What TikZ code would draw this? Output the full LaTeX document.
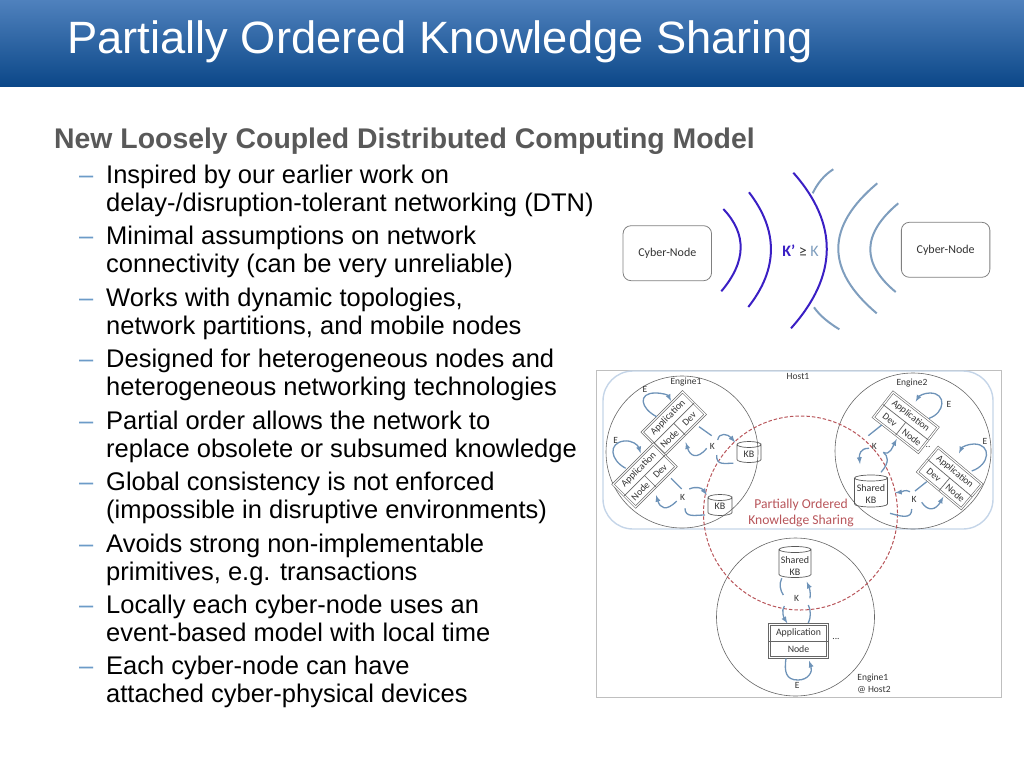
\documentclass[tikz,border=0pt]{standalone}
\usepackage{fontspec}
\setmainfont{Liberation Sans}
\newfontfamily\diagfont{Carlito}
\definecolor{bartop}{HTML}{4F81BD}
\definecolor{barbottom}{HTML}{0B4788}
\definecolor{headgray}{HTML}{595959}
\definecolor{dashblue}{HTML}{6C9BC8}
\definecolor{waveblue}{HTML}{3A1FC4}
\definecolor{wavesteel}{HTML}{7F9EBE}
\definecolor{flowblue}{HTML}{6E93B8}
\definecolor{hostblue}{HTML}{C5D5E8}
\definecolor{sharered}{HTML}{B8555A}
\definecolor{inkgray}{HTML}{333333}
\tikzset{
  bodyline/.style={anchor=base west,inner sep=0pt,font=\fontsize{25.5}{28}\selectfont},
  bulletdash/.style={anchor=base west,inner sep=0pt,text=dashblue,font=\fontsize{25.5}{28}\selectfont},
  cybernode/.style={draw=gray,rounded corners=8,line width=.8pt,minimum width=88.5,minimum height=55,text=inkgray,font=\diagfont\fontsize{12}{14}\selectfont},
  wave/.style={line width=2pt,draw=waveblue},
  wavelight/.style={line width=2pt,draw=wavesteel},
  engine/.style={draw=gray!80!black,circle,line width=.6pt,minimum size=#1,inner sep=0pt},
  kbbox/.style={inner sep=0pt,outer sep=0pt},
  kbline/.style={draw=gray!70!black,line width=.7pt},
  kbtext/.style={inner sep=0pt,align=center,text=inkgray,font=\diagfont\fontsize{10}{12}\selectfont},
  applabel/.style={inner sep=0pt,text=inkgray,font=\diagfont\fontsize{9.8}{11}\selectfont},
  appouter/.style={draw=gray!80!black,double,double distance=1.2pt,line width=.6pt,minimum width=57,minimum height=32,inner sep=0pt},
  appsplit/.style={draw=gray!80!black,line width=.7pt},
  tag/.style={inner sep=0pt,text=inkgray,align=left,font=\diagfont\fontsize{9.5}{12}\selectfont},
  flow/.style={draw=flowblue,line width=1.3pt,-latex},
  flowplain/.style={draw=flowblue,line width=1.3pt}
}
% rotated application box: name, centre, angle, left part, right part
\newcommand{\appdiamond}[5]{
  \begin{scope}[shift={(#2)},rotate=#3]
    \node[appouter,rotate=#3] (#1) at (0,0) {};
    \node[applabel,rotate=#3] (#1app) at (0,-8) {Application};
    \node[applabel,rotate=#3] (#1left) at (-14,8) {#4};
    \node[applabel,rotate=#3] (#1right) at (14,8) {#5};
    \draw[appsplit] (#1.west) -- (#1.east);
    \draw[appsplit] (#1.center) -- (#1.south);
  \end{scope}
}
% drum: name, centre, width, side height
\newcommand{\kbdrum}[4]{
  \node[kbbox,minimum width=#3,minimum height=#4] (#1) at (#2) {};
  \draw[kbline] (#1.north west) -- (#1.south west)
    arc[start angle=180,end angle=0,x radius=#3/2,y radius=3]
    -- (#1.north east)
    arc[start angle=0,end angle=360,x radius=#3/2,y radius=3];
}
\begin{document}
\begin{tikzpicture}[x=1pt,y=-1pt]
  \useasboundingbox (0,0) rectangle (1024,768);
  \shade[top color=bartop,bottom color=barbottom] (0,0) rectangle (1024,86.7);
  \node[anchor=base west,inner sep=0pt,text=white,font=\fontsize{45.3}{50}\selectfont] (title) at (67,53) {Partially Ordered Knowledge Sharing};
  \node[anchor=base west,inner sep=0pt,text=headgray,font=\bfseries\fontsize{28.4}{30}\selectfont] (heading) at (54,148.5) {New Loosely Coupled Distributed Computing Model};

  % text lines
  \foreach \ypos/\linetext [count=\i] in {
    183/{Inspired by our earlier work on},
    211/{delay-/disruption-tolerant networking (DTN)},
    244.5/{Minimal assumptions on network},
    272/{connectivity (can be very unreliable)},
    306/{Works with dynamic topologies,},
    334/{network partitions, and mobile nodes},
    367.5/{Designed for heterogeneous nodes and},
    395/{heterogeneous networking technologies},
    429/{Partial order allows the network to},
    457/{replace obsolete or subsumed knowledge},
    490.5/{Global consistency is not enforced},
    518.5/{(impossible in disruptive environments)},
    552/{Avoids strong non-implementable},
    580/{primitives, e.g. transactions},
    613.5/{Locally each cyber-node uses an},
    641.5/{event-based model with local time},
    674.5/{Each cyber-node can have},
    702.5/{attached cyber-physical devices}}
    \node[bodyline] (line\i) at (106,\ypos) {\linetext};
  \foreach \ypos [count=\i] in {183,244.5,306,367.5,429,490.5,552,613.5,674.5}
    \node[bulletdash] (dash\i) at (79,\ypos) {--};

  % top sketch
  \node[cybernode] (nodeL) at (667.3,253.2) {Cyber-Node};
  \node[cybernode] (nodeR) at (945.6,249.8) {Cyber-Node};
  \draw[wave] (723.3,209) .. controls (747.1,234.1) and (746.4,261.5) .. (721.3,291.3);
  \draw[wave] (749,192.3) .. controls (778.6,230.8) and (778.1,269) .. (748.3,307);
  \draw[wavelight] (877.3,183.3) .. controls (825.5,226.6) and (825.3,270) .. (876.7,313.3);
  \draw[wavelight] (898.3,203.3) .. controls (861.8,233.8) and (861,263.3) .. (895.7,292);
  \draw[wavelight] (833.3,169.3) .. controls (824,175) and (817,184) .. (812.7,193.3);
  \draw[wavelight] (814,307.3) .. controls (820,316) and (829,323) .. (839.3,329.3);
  \draw[wave] (793.3,172.7) .. controls (838.7,223.9) and (837.9,275.8) .. (791,328.3);
  \node[inner sep=0pt,font=\diagfont\fontsize{16}{18}\selectfont] (order) at (800.5,250.5) {\textcolor{waveblue}{\textbf{K’}} \textcolor{inkgray}{≥} \textcolor{wavesteel}{K}};

  % lower sketch
  \node[draw=gray!50,line width=.6pt,minimum width=405,minimum height=327,inner sep=0pt] (frame) at (798.5,533.5) {};
  \node[draw=hostblue,line width=1.4pt,rounded corners=30,minimum width=390,minimum height=158,inner sep=0pt] (host) at (798,450) {};
  \node[engine=152] (engineA) at (682,452) {};
  \node[engine=156] (engineB) at (913,451) {};
  \node[engine=158] (engineC) at (795.5,617) {};
  \node[draw=sharered,dash pattern=on 3.5pt off 2pt,circle,line width=1pt,minimum size=194,inner sep=0pt] (shared) at (800.5,513) {};
  \node[inner sep=0pt,align=center,text=sharered,font=\diagfont\fontsize{13.6}{16}\selectfont] (sharedtext) at (801,513) {Partially Ordered\\Knowledge Sharing};
  \node[tag] (hostname) at (798,376) {Host1};
  \node[tag] (nameA) at (686,382) {Engine1};
  \node[tag] (nameB) at (912,383) {Engine2};
  \node[tag] (nameC) at (874,684) {Engine1\\@ Host2};

  \appdiamond{appA}{673.7,423.3}{45}{Node}{Dev}
  \appdiamond{appB}{644.5,475.5}{45}{Node}{Dev}
  \appdiamond{appC}{905.7,422.3}{-38}{Dev}{Node}
  \appdiamond{appD}{949.7,478}{-40}{Dev}{Node}
  \node[appouter,minimum width=58,minimum height=33] (appE) at (798.5,641) {};
  \draw[appsplit] (appE.west) -- (appE.east);
  \node[applabel] (appEtop) at (798.5,633) {Application};
  \node[applabel] (appEbot) at (798.5,649) {Node};

  \kbdrum{kbA}{749,452}{24}{15}
  \kbdrum{kbB}{720,505}{24}{15}
  \kbdrum{kbC}{871,491}{33}{26}
  \kbdrum{kbD}{795,562}{32}{25}
  \node[kbtext] (kbAtext) at (749,454) {KB};
  \node[kbtext] (kbBtext) at (720,506.5) {KB};
  \node[kbtext] (kbCtext) at (871,494) {Shared\\KB};
  \node[kbtext] (kbDtext) at (795,566) {Shared\\KB};

  \node[tag] (eA) at (645,389.3) {E};
  \node[tag] (eB) at (615.7,440) {E};
  \node[tag] (eC) at (949,404.3) {E};
  \node[tag] (eD) at (985,441) {E};
  \node[tag] (eE) at (797.3,685.7) {E};
  \node[tag] (kA) at (712.3,446) {K};
  \node[tag] (kB) at (682.7,497.3) {K};
  \node[tag] (kC) at (874.3,446.7) {K};
  \node[tag] (kD) at (914,499.3) {K};
  \node[tag] (kE) at (796.7,598.3) {K};
  \node[tag] (dotsB) at (928,447) {..};
  \node[tag] (dotsC) at (836,639) {...};

  % E loops
  \coordinate (eAs) at (656.7,416.7);  \coordinate (eAt) at (671,401);
  \coordinate (eBs) at (625.7,468.3);  \coordinate (eBt) at (640.7,453.3);
  \coordinate (eCs) at (929,418.3);    \coordinate (eCt) at (915.7,401.7);
  \coordinate (eDs) at (971.7,471);    \coordinate (eDt) at (959,453.3);
  \coordinate (eEs) at (786,658.3);    \coordinate (eEt) at (809,660.7);
  \draw[flow] (eAs) .. controls (640,408) and (638,393) .. (655,393) .. controls (663,393) and (668,395) .. (eAt);
  \draw[flow] (eBs) .. controls (610,460) and (608,443) .. (624,441) .. controls (632,440) and (638,445) .. (eBt);
  \draw[flow] (eCs) .. controls (945,413) and (947,393) .. (930,393) .. controls (924,393) and (919,396) .. (eCt);
  \draw[flow] (eDs) .. controls (990,465) and (992,444) .. (974,444) .. controls (968,444) and (962,447) .. (eDt);
  \draw[flow] (eEs) .. controls (784,672) and (786,680) .. (798,680) .. controls (808,680) and (813,672) .. (eEt);

  % K links, engine 1
  \coordinate (a1) at (699,426.7);   \coordinate (a2) at (711.7,435.7);
  \coordinate (a3) at (706.7,448.3); \coordinate (a4) at (685.7,442.3);
  \coordinate (a5) at (717.7,440);   \coordinate (a6) at (735,442.3);
  \coordinate (a7) at (716.7,455);   \coordinate (a8) at (733.3,463.3);
  \draw[flowplain] (a1) -- (a2);
  \draw[flow] (a3) .. controls (697,460) and (690,456) .. (a4);
  \draw[flow] (a5) .. controls (719,432) and (728,434) .. (a6);
  \draw[flowplain] (a7) .. controls (716,466) and (725,463) .. (a8);
  \coordinate (b1) at (671,478.3);   \coordinate (b2) at (681.7,489);
  \coordinate (b3) at (676.7,501);   \coordinate (b4) at (656,495);
  \coordinate (b5) at (689.3,489);   \coordinate (b6) at (706.7,495);
  \coordinate (b7) at (685,508.3);   \coordinate (b8) at (705,515);
  \draw[flowplain] (b1) -- (b2);
  \draw[flow] (b3) .. controls (666,512) and (660,508) .. (b4);
  \draw[flow] (b5) .. controls (696,486) and (702,488) .. (b6);
  \draw[flowplain] (b7) .. controls (685,518) and (695,515) .. (b8);

  % K links, engine 2
  \coordinate (c1) at (881.7,425);   \coordinate (c2) at (868.3,435.7);
  \coordinate (c3) at (869,448.3);   \coordinate (c4) at (860,464);
  \coordinate (c5) at (881,472.3);   \coordinate (c6) at (883.3,452.3);
  \coordinate (c7) at (896.7,439);
  \draw[flowplain] (c1) -- (c2);
  \draw[flow] (c3) .. controls (860,448) and (859,455) .. (c4);
  \draw[flowplain] (c5) .. controls (890,462) and (888,456) .. (c6);
  \draw[flow] (c6) .. controls (890,456) and (893,446) .. (c7);
  \coordinate (d1) at (926.7,481.7); \coordinate (d2) at (915,491);
  \coordinate (d3) at (910,491.7);   \coordinate (d4) at (895,492.7);
  \coordinate (d5) at (921.7,502.3); \coordinate (d6) at (943.3,496.7);
  \coordinate (d7) at (911.7,509);   \coordinate (d8) at (890,513.3);
  \draw[flowplain] (d1) -- (d2);
  \draw[flow] (d3) .. controls (905,489) and (902,492) .. (d4);
  \draw[flow] (d5) .. controls (928,512) and (936,510) .. (d6);
  \draw[flowplain] (d7) .. controls (912,520) and (900,516) .. (d8);

  % K links, engine 3
  \coordinate (f1) at (781.7,578.3); \coordinate (f2) at (783.3,595);
  \coordinate (f3) at (810,598.3);   \coordinate (f4) at (806.7,581.7);
  \coordinate (f5) at (784.3,606);   \coordinate (f6) at (787.3,623.3);
  \coordinate (f7) at (808.3,605);   \coordinate (f8) at (808.3,623);
  \draw[flowplain] (f1) .. controls (779,584) and (780,590) .. (f2);
  \draw[flow] (f3) .. controls (811,592) and (809,587) .. (f4);
  \draw[flow] (f5) .. controls (781,611) and (784,618) .. (f6);
  \draw[flowplain] (f7) .. controls (811,611) and (811,617) .. (f8);
\end{tikzpicture}
\end{document}
